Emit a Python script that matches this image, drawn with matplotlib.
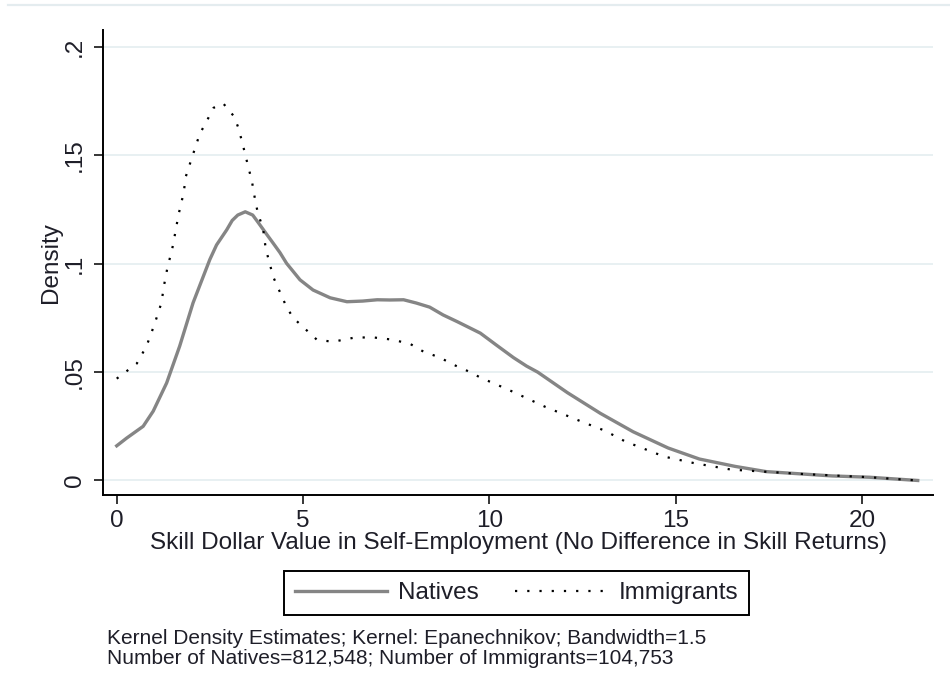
import numpy as np
import matplotlib
matplotlib.use("Agg")
import matplotlib.pyplot as plt
from matplotlib.lines import Line2D

plt.rcParams['font.family'] = ['Liberation Sans', 'DejaVu Sans']

# kernel density curves (skill dollar value, density)
nat_x = [0, 0.27, 0.71, 0.98, 1.34, 1.69, 2.05, 2.5, 2.68, 2.95, 3.1, 3.25, 3.45,
         3.65, 3.8, 4.03, 4.2, 4.38, 4.56, 4.92, 5.27, 5.73, 6.18, 6.6, 6.99,
         7.33, 7.7, 8.04, 8.4, 8.76, 9.14, 9.48, 9.76, 10.19, 10.65, 11.0, 11.3,
         12.1, 12.98, 13.86, 14.8, 15.64, 16.6, 17.43, 18.4, 19.2, 20.2, 21.5]
nat_y = [0.016, 0.0196, 0.025, 0.032, 0.045, 0.062, 0.082, 0.102, 0.1087, 0.1156,
         0.120, 0.1225, 0.124, 0.1225, 0.119, 0.1135, 0.1095, 0.1052, 0.1002,
         0.0926, 0.0879, 0.0843, 0.0825, 0.0828, 0.0834, 0.0833, 0.0834, 0.0819,
         0.080, 0.0764, 0.0733, 0.0704, 0.068, 0.0625, 0.0567, 0.0528, 0.050,
         0.0405, 0.031, 0.0225, 0.015, 0.0099, 0.0065, 0.0041, 0.003, 0.0021,
         0.0015, 0.0]

imm_x = [0, 0.54, 0.8, 0.97, 1.05, 1.2, 1.27, 1.37, 1.48, 1.59, 1.65, 1.8, 1.85,
         2.0, 2.23, 2.39, 2.6, 2.86, 3.15, 3.26, 3.37, 3.47, 3.63, 3.7, 3.78,
         3.93, 4.0, 4.2, 4.38, 4.56, 4.74, 5.37, 5.8, 6.4, 6.9, 7.4, 7.88, 8.23,
         8.68, 9.03, 9.49, 9.76, 10.5, 11.5, 12.5, 13.1, 13.65, 14.7, 15.5, 16.5,
         18.4, 20.2, 21.5]
imm_y = [0.047, 0.054, 0.062, 0.07, 0.074, 0.082, 0.09, 0.099, 0.106, 0.116,
         0.122, 0.133, 0.14, 0.148, 0.16, 0.165, 0.172, 0.174, 0.168, 0.163,
         0.156, 0.149, 0.138, 0.131, 0.124, 0.116, 0.107, 0.094, 0.087, 0.08,
         0.075, 0.065, 0.064, 0.066, 0.066, 0.065, 0.063, 0.0595, 0.0567, 0.0535,
         0.050, 0.0475, 0.042, 0.034, 0.027, 0.023, 0.018, 0.011, 0.008, 0.005,
         0.003, 0.0015, 0.0]

xticks = [0, 5, 10, 15, 20]
yticks = [0, 0.05, 0.1, 0.15, 0.2]
ytick_labels = ['0', '.05', '.1', '.15', '.2']

note_lines = ["Kernel Density Estimates; Kernel: Epanechnikov; Bandwidth=1.5",
              "Number of Natives=812,548; Number of Immigrants=104,753"]

W, H = 950, 691
fs = 17.5
fig = plt.figure(figsize=(W / 100, H / 100), dpi=100)
ax = fig.add_axes([103 / W, 1 - 495 / H, 830 / W, 465 / H])

txt = '#1e1e28'
grid_c = '#e8f0f2'

for v in yticks:
    ax.axhline(v, color=grid_c, lw=1.4, zorder=0)

ln_nat, = ax.plot(nat_x, nat_y, color='#858585', lw=2.4, label='Natives', zorder=2)
ln_imm, = ax.plot(imm_x, imm_y, color='black', lw=1.6, linestyle=(0, (1, 4.5)),
                  dash_capstyle='butt', label='Immigrants', zorder=3)

ax.set_xlim(-0.368, 21.91)
ax.set_ylim(-0.0067, 0.2079)

ax.set_xticks(xticks)
ax.set_yticks(yticks)
ax.set_yticklabels(ytick_labels, rotation=90, va='center')
ax.tick_params(axis='both', length=6.5, width=1.1, color='black',
               labelsize=fs, labelcolor=txt)
ax.tick_params(axis='x', pad=4.5)
ax.tick_params(axis='y', pad=5.8)

for s in ['top', 'right']:
    ax.spines[s].set_visible(False)
for s in ['left', 'bottom']:
    ax.spines[s].set_linewidth(1.4)

ax.set_xlabel('Skill Dollar Value in Self-Employment (No Difference in Skill Returns)',
              fontsize=fs, color=txt, labelpad=0)
ax.set_ylabel('Density', fontsize=fs, color=txt, labelpad=1.2)

leg = fig.legend(handles=[ln_nat, ln_imm], loc='center',
                 bbox_to_anchor=(516.5 / W, 1 - 593 / H), ncol=2,
                 fontsize=fs, handlelength=3.8, handletextpad=0.45,
                 columnspacing=1.5, fancybox=False, framealpha=1,
                 edgecolor='black', borderpad=0.45, borderaxespad=0)
leg.get_frame().set_linewidth(1.4)
for t in leg.get_texts():
    t.set_color(txt)

for i, line in enumerate(note_lines):
    fig.text(107 / W, 1 - (644 + 19.5 * i) / H, line, fontsize=15, color=txt,
             va='baseline')

# faint outer border along the top
fig.add_artist(Line2D([8 / W, 1], [1 - 5 / H, 1 - 5 / H], color='#e4ecef', lw=1.6))

fig.savefig('out.png', dpi=100)
